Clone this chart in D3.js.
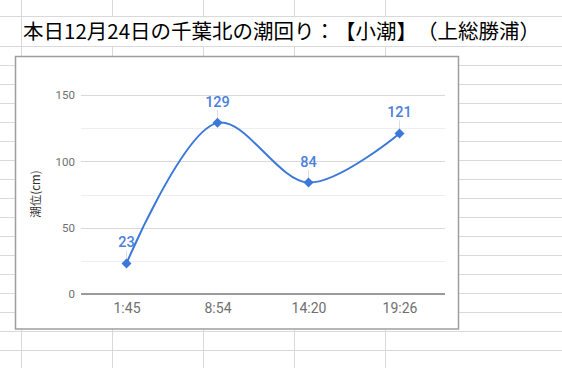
<!DOCTYPE html>
<html><head><meta charset="utf-8">
<script src="https://cdn.jsdelivr.net/npm/d3@7"></script>
<style>html,body{margin:0;padding:0;background:#fff;overflow:hidden}
text{text-spacing-trim:space-all;font-kerning:none}</style>
</head><body>
<svg id="c" width="562" height="368"></svg>
<script>
const times = ["1:45", "8:54", "14:20", "19:26"];
const heights = [23, 129, 84, 121];
const majorTicks = [0, 50, 100, 150];
const minorTicks = [25, 75, 125];
const titleText = "本日12月24日の千葉北の潮回り：【小潮】（上総勝浦）";
const yTitle = "潮位(cm)";

const svg = d3.select("#c");
const W = 562, H = 368;

// spreadsheet grid
const gridColor = "#d9d9d9";
const colX = [21.5, 112.5, 203.5, 294.5, 385.5];
const rowY = [16.5];
for (let y = 46.5; y < H + 19; y += 19) rowY.push(y);
const g0 = svg.append("g");
rowY.forEach(y => g0.append("line").attr("x1", 0).attr("x2", W).attr("y1", y).attr("y2", y)
  .attr("stroke", gridColor).attr("stroke-width", 1));
colX.forEach((x, i) => {
  g0.append("line").attr("x1", x).attr("x2", x).attr("y1", 0).attr("y2", 16.5).attr("stroke", gridColor);
  g0.append("line").attr("x1", x).attr("x2", x).attr("y1", 46.5).attr("y2", H).attr("stroke", gridColor);
});
g0.append("line").attr("x1", 21.5).attr("x2", 21.5).attr("y1", 16.5).attr("y2", 46.5).attr("stroke", gridColor);

// title
svg.append("text").attr("x", 23).attr("y", 38.5)
  .attr("font-family", "'Noto Sans CJK JP', sans-serif").attr("font-size", 20.5)
  .attr("fill", "#000").text(titleText);

// chart box
svg.append("rect").attr("x", 15.5).attr("y", 56.5).attr("width", 443).attr("height", 272.5)
  .attr("fill", "#fff").attr("stroke", "#9e9e9e").attr("stroke-width", 1.5);

const x = d3.scalePoint().domain(times).range([81, 445]).padding(0.5);
const y = d3.scaleLinear().domain([0, 150]).range([294, 95]);

const g = svg.append("g");
g.selectAll(".minor").data(minorTicks).join("line")
  .attr("x1", 81).attr("x2", 445).attr("y1", d => Math.round(y(d)) + 0.5).attr("y2", d => Math.round(y(d)) + 0.5)
  .attr("stroke", "#eeeeee").attr("stroke-width", 1);
g.selectAll(".major").data(majorTicks.filter(d => d > 0)).join("line")
  .attr("x1", 81).attr("x2", 445).attr("y1", d => Math.round(y(d)) + 0.5).attr("y2", d => Math.round(y(d)) + 0.5)
  .attr("stroke", "#d9d9d9").attr("stroke-width", 1);
g.append("line").attr("x1", 81).attr("x2", 445).attr("y1", y(0)).attr("y2", y(0))
  .attr("stroke", "#7a7a7a").attr("stroke-width", 1.5);

// y axis labels
const yAxis = d3.axisLeft(y).tickValues(majorTicks).tickSize(0).tickPadding(6);
const ya = svg.append("g").attr("transform", "translate(81,0)").call(yAxis);
ya.select(".domain").remove();
ya.selectAll("text").attr("font-family", "Roboto, sans-serif").attr("font-size", 11.5).attr("fill", "#6f6f6f");

// x axis labels
const xAxis = d3.axisBottom(x).tickSize(0).tickPadding(9);
const xa = svg.append("g").attr("transform", `translate(0,${y(0)})`).call(xAxis);
xa.select(".domain").remove();
xa.selectAll("text").attr("font-family", "Roboto, sans-serif").attr("font-size", 14).attr("fill", "#6f6f6f");

// y title
svg.append("text").attr("transform", "translate(39.5,194) rotate(-90)")
  .attr("text-anchor", "middle").attr("font-family", "'Noto Sans CJK JP', sans-serif")
  .attr("font-size", 11.5).attr("fill", "#333").text(yTitle);

const data = times.map((t, i) => ({t, v: heights[i]}));

// leader lines
svg.selectAll(".lead").data(data).join("line")
  .attr("x1", d => x(d.t)).attr("x2", d => x(d.t))
  .attr("y1", d => y(d.v) - 13).attr("y2", d => y(d.v) - 4)
  .attr("stroke", "#dddddd").attr("stroke-width", 1);

// line
const line = d3.line().x(d => x(d.t)).y(d => y(d.v)).curve(d3.curveCatmullRom.alpha(0.5));
svg.append("path").datum(data).attr("d", line).attr("fill", "none")
  .attr("stroke", "#3c78d8").attr("stroke-width", 2);

// markers
svg.selectAll(".mk").data(data).join("path")
  .attr("transform", d => `translate(${x(d.t)},${y(d.v)})`)
  .attr("d", d3.symbol(d3.symbolDiamond2, 64)())
  .attr("fill", "#3c78d8");

// labels
svg.selectAll(".lbl").data(data).join("text")
  .attr("x", d => x(d.t)).attr("y", d => y(d.v) - 16)
  .attr("text-anchor", "middle").attr("font-family", "Roboto, sans-serif")
  .attr("font-size", 14.5).attr("font-weight", 500).attr("fill", "#4a7fdc").text(d => d.v);
</script>
</body></html>
